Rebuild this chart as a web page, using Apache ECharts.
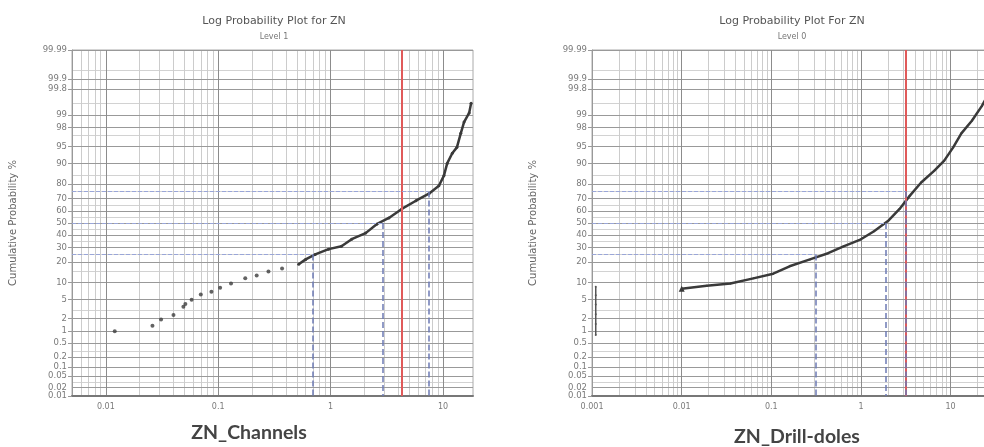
<!DOCTYPE html>
<html>
<head>
<meta charset="utf-8">
<script src="https://cdn.jsdelivr.net/npm/echarts@6/dist/echarts.min.js"></script>
<style>
  html, body { margin: 0; background: #fff; }
  #chart { width: 984px; height: 447px; }
</style>
</head>
<body>
<div id="chart"></div>
<script>
// probability axis labels (cumulative %)
var probLabels = [0.01, 0.02, 0.05, 0.1, 0.2, 0.5, 1, 2, 5, 10, 20, 30, 40, 50, 60, 70, 80, 90, 95, 98, 99, 99.8, 99.9, 99.99];
var probCrowded = [0.02]; // label that ECharts drops next to 0.01, drawn from the second axis
var probMinor = [0.03, 0.3, 3, 15, 25, 35, 45, 55, 65, 75, 85, 97, 99.5, 99.95];
// log axis ticks
var decades = [0.001, 0.01, 0.1, 1, 10];
var minorSteps = [2, 3, 4, 5, 6, 7, 8, 9];

// ZN_Channels : [ZN value, cumulative %]
var channelsSparse = [[0.012, 1.0], [0.026, 1.35], [0.031, 1.9], [0.040, 2.4], [0.049, 3.6], [0.051, 4.1], [0.058, 4.95],
  [0.070, 6.2], [0.087, 7.0], [0.104, 8.2], [0.13, 9.7], [0.174, 11.7], [0.22, 12.9], [0.28, 14.9], [0.37, 16.4]];
var channelsCurve = [[0.52, 18.7], [0.60, 21.7], [0.73, 25.0], [0.96, 28.7], [1.25, 30.8], [1.54, 36.4], [2.05, 41.4],
  [2.57, 49.0], [3.3, 54.3], [4.3, 61.9], [5.75, 68.4], [7.5, 73.6], [9.2, 78.8], [10.2, 84.6], [10.9, 90.0],
  [12.1, 93.3], [13.3, 94.8], [14.4, 97.3], [15.4, 98.5], [17.1, 99.1], [17.8, 99.5]];
var channelsQuart = [[25, 0.70], [50, 2.9], [75, 7.4]]; // [cumulative %, ZN]
var channelsCut = 4.3;

// ZN_Drill-doles
var drillDetection = [[0.0011, 0.8], [0.0011, 1.5], [0.0011, 2.5], [0.0011, 4], [0.0011, 6], [0.0011, 8.5]];
var drillCurve = [[0.01, 7.9], [0.019, 8.9], [0.035, 9.7], [0.063, 11.7], [0.105, 13.8], [0.16, 17.6], [0.27, 21.7],
  [0.43, 25.8], [0.64, 30.8], [1.0, 36.3], [1.4, 43.0], [2.0, 51.7], [2.7, 61.9], [3.5, 72.0], [4.7, 80.8],
  [6.6, 87.0], [8.5, 91.0], [10.7, 94.8], [13.2, 97.3], [17.3, 98.6], [22.3, 99.4], [26, 99.7]];
var drillQuart = [[25, 0.31], [50, 1.9], [75, 3.2]];
var drillCut = 3.2;

// inverse normal cdf (Acklam), used as the probability scale
function probit(p) {
  var a = [-3.969683028665376e+01, 2.209460984245205e+02, -2.759285104469687e+02, 1.383577518672690e+02, -3.066479806614716e+01, 2.506628277459239e+00];
  var b = [-5.447609879822406e+01, 1.615858368580409e+02, -1.556989798598866e+02, 6.680131188771972e+01, -1.328068155288572e+01];
  var c = [-7.784894002430293e-03, -3.223964580411365e-01, -2.400758277161838e+00, -2.549671348283425e+00, 4.374664141464968e+00, 2.938163982698783e+00];
  var d = [7.784695709041462e-03, 3.224671290700398e-01, 2.445134137142996e+00, 3.754408661907416e+00];
  var pl = 0.02425, q, r;
  if (p < pl) {
    q = Math.sqrt(-2 * Math.log(p));
    return (((((c[0] * q + c[1]) * q + c[2]) * q + c[3]) * q + c[4]) * q + c[5]) / ((((d[0] * q + d[1]) * q + d[2]) * q + d[3]) * q + 1);
  }
  if (p > 1 - pl) {
    q = Math.sqrt(-2 * Math.log(1 - p));
    return -(((((c[0] * q + c[1]) * q + c[2]) * q + c[3]) * q + c[4]) * q + c[5]) / ((((d[0] * q + d[1]) * q + d[2]) * q + d[3]) * q + 1);
  }
  q = p - 0.5; r = q * q;
  return (((((a[0] * r + a[1]) * r + a[2]) * r + a[3]) * r + a[4]) * r + a[5]) * q / (((((b[0] * r + b[1]) * r + b[2]) * r + b[3]) * r + b[4]) * r + 1);
}
function z(pct) { return probit(pct / 100); }

// small pad so the 0.01 / 99.99 labels sit inside the extent
var zMin = z(0.01) - 1e-6, zMax = z(99.99) + 1e-6;
var zLabels = probLabels.map(z);
var zCrowded = probCrowded.map(z);
var zMinor = probMinor.map(z);
var xMinor = [];
decades.forEach(function (d) { minorSteps.forEach(function (s) { xMinor.push(+(d * s).toPrecision(3)); }); });

function probText(v) {
  for (var i = 0; i < zLabels.length; i++) {
    if (Math.abs(zLabels[i] - v) < 1e-5) return String(probLabels[i]);
  }
  return '';
}
function toZ(list) { return list.map(function (p) { return [p[0], z(p[1])]; }); }

var fontColor = '#7a7a7a';
var tickFont = 'DejaVu Sans';

function xAxes(g, min, max) {
  return [{
    type: 'log', logBase: 10, gridIndex: g, min: min, max: max, position: 'bottom',
    axisLine: { show: true, onZero: false, lineStyle: { color: '#777', width: 2 } },
    axisTick: { show: false, customValues: decades },
    axisLabel: { customValues: decades, color: fontColor, fontSize: 8, fontFamily: tickFont, margin: 7,
      showMinLabel: true, formatter: function (v) { return String(+(+v).toPrecision(4)); } },
    splitLine: { show: true, lineStyle: { color: '#8c8c8c', width: 1 } }
  }, {
    type: 'log', logBase: 10, gridIndex: g, min: min, max: max, position: 'top', z: -1,
    axisLine: { show: false, onZero: false }, axisLabel: { show: false },
    axisTick: { show: false, customValues: xMinor },
    splitLine: { show: true, lineStyle: { color: '#cccccc', width: 1 } }
  }];
}
function yAxes(g, gridWidth) {
  return [{
    type: 'value', gridIndex: g, min: zMin, max: zMax, position: 'left',
    name: 'Cumulative Probability %', nameLocation: 'middle', nameGap: 54, nameRotate: 90,
    nameTextStyle: { color: '#666', fontSize: 10, fontFamily: tickFont },
    axisLine: { show: true, onZero: false, lineStyle: { color: '#999' } },
    axisTick: { show: true, length: 4, customValues: zLabels, lineStyle: { color: '#999' } },
    axisLabel: { customValues: zLabels, formatter: probText, color: fontColor, fontSize: 8.5, fontFamily: tickFont, margin: 5,
      showMinLabel: true, showMaxLabel: true, hideOverlap: false },
    splitLine: { show: true, lineStyle: { color: '#999999', width: 1 } }
  }, {
    // minor grid lines; its axis sits on the left edge to carry the crowded label
    type: 'value', gridIndex: g, min: zMin, max: zMax, position: 'right', offset: -gridWidth, z: -1,
    axisLine: { show: false, onZero: false },
    axisLabel: { inside: true, customValues: zCrowded, formatter: probText, color: fontColor, fontSize: 8.5, fontFamily: tickFont, margin: 5 },
    axisTick: { show: false, customValues: zMinor },
    splitLine: { show: true, lineStyle: { color: '#d2d2d2', width: 1 } }
  }];
}

// dashed quartile guides + red cut line
function guides(quart, cut, xmin) {
  var blueH = { color: '#9aa6d8', width: 1, type: 'dashed' };
  var blueV = { color: '#6c7ab4', width: 1.5, type: 'dashed' };
  var data = [{ xAxis: cut, lineStyle: { color: '#e05a5a', width: 2, type: 'solid' } }];
  quart.forEach(function (q) {
    data.push([{ coord: [xmin, z(q[0])], lineStyle: blueH }, { coord: [q[1], z(q[0])] }]);
    data.push([{ coord: [q[1], z(q[0])], lineStyle: blueV }, { coord: [q[1], zMin] }]);
  });
  return { silent: true, symbol: 'none', animation: false, label: { show: false }, data: data };
}

var leftMin = 0.005, leftMax = 18.5, rightMin = 0.000999, rightMax = 29;

var myChart = echarts.init(document.getElementById('chart'));
var option = {
  animation: false,
  backgroundColor: '#fff',
  grid: [
    { left: 72, top: 50, width: 401, height: 346, outerBoundsMode: 'none', show: true, borderColor: '#aaa', borderWidth: 1 },
    { left: 592, top: 50, width: 400, height: 346, outerBoundsMode: 'none', show: true, borderColor: '#aaa', borderWidth: 1 }
  ],
  xAxis: xAxes(0, leftMin, leftMax).concat(xAxes(1, rightMin, rightMax)),
  yAxis: yAxes(0, 401).concat(yAxes(1, 400)),
  graphic: [
    { type: 'text', x: 274, y: 21, style: { text: 'Log Probability Plot for ZN', align: 'center', verticalAlign: 'middle', fontSize: 11, fill: '#555', fontFamily: tickFont } },
    { type: 'text', x: 274, y: 37, style: { text: 'Level 1', align: 'center', verticalAlign: 'middle', fontSize: 8, fill: '#777', fontFamily: tickFont } },
    { type: 'text', x: 792, y: 21, style: { text: 'Log Probability Plot For ZN', align: 'center', verticalAlign: 'middle', fontSize: 11, fill: '#555', fontFamily: tickFont } },
    { type: 'text', x: 792, y: 37, style: { text: 'Level 0', align: 'center', verticalAlign: 'middle', fontSize: 8, fill: '#777', fontFamily: tickFont } },
    { type: 'text', x: 249, y: 433, style: { text: 'ZN_Channels', align: 'center', verticalAlign: 'middle', fontSize: 19.5, fontWeight: 'bold', fill: '#444', fontFamily: 'Lato' } },
    { type: 'text', x: 797, y: 437, style: { text: 'ZN_Drill-doles', align: 'center', verticalAlign: 'middle', fontSize: 19.5, fontWeight: 'bold', fill: '#444', fontFamily: 'Lato' } }
  ],
  series: [
    {
      name: 'ZN_Channels low', type: 'scatter', xAxisIndex: 0, yAxisIndex: 0,
      symbol: 'circle', symbolSize: 4, itemStyle: { color: '#3c3c3c' },
      data: toZ(channelsSparse)
    },
    {
      name: 'ZN_Channels', type: 'line', xAxisIndex: 0, yAxisIndex: 0,
      symbol: 'circle', symbolSize: 3, itemStyle: { color: '#3a3a3a' },
      lineStyle: { color: '#3a3a3a', width: 2.5 },
      data: toZ(channelsCurve),
      markLine: guides(channelsQuart, channelsCut, leftMin)
    },
    {
      name: 'ZN_Drill detection', type: 'line', xAxisIndex: 2, yAxisIndex: 2,
      symbol: 'circle', symbolSize: 2, itemStyle: { color: '#555' },
      lineStyle: { color: '#555', width: 1.5 },
      data: toZ(drillDetection)
    },
    {
      name: 'ZN_Drill-doles', type: 'line', xAxisIndex: 2, yAxisIndex: 2,
      symbol: function (v, p) { return p.dataIndex === 0 ? 'triangle' : 'circle'; },
      symbolSize: function (v, p) { return p.dataIndex === 0 ? 6 : 2; },
      itemStyle: { color: '#3a3a3a' },
      lineStyle: { color: '#3a3a3a', width: 2.5 },
      data: toZ(drillCurve),
      markLine: guides(drillQuart, drillCut, 0.001)
    }
  ]
};
myChart.setOption(option);
</script>
</body>
</html>
